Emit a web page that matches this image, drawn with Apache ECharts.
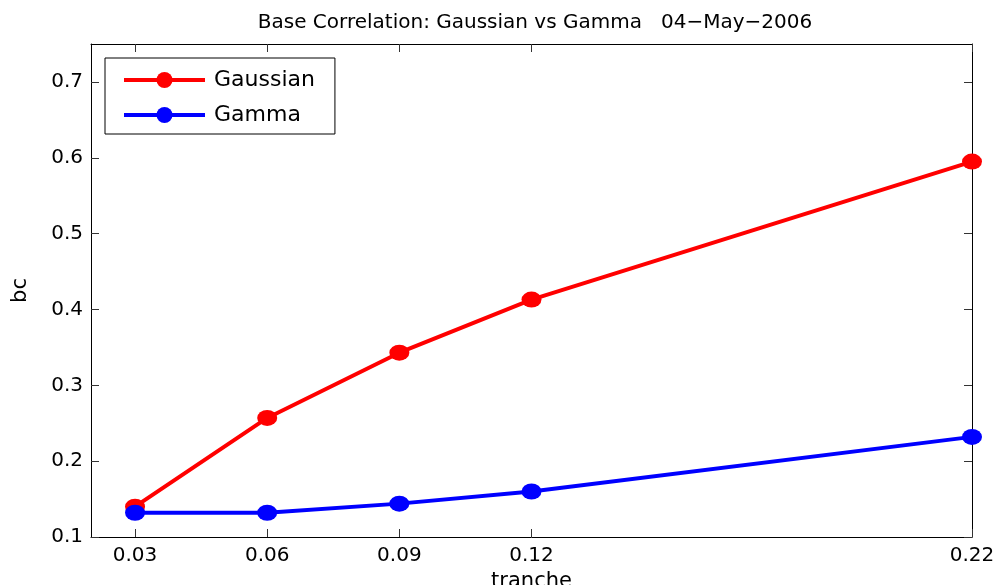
<!DOCTYPE html>
<html>
<head>
<meta charset="utf-8">
<script src="https://cdn.jsdelivr.net/npm/echarts@6/dist/echarts.min.js"></script>
<style>
html,body{margin:0;padding:0;background:#fff;overflow:hidden;}
#chart{width:999px;height:585px;}
</style>
</head>
<body>
<div id="chart"></div>
<script>
const tranche = [0.03, 0.06, 0.09, 0.12, 0.22];
const gaussian = [0.140, 0.257, 0.343, 0.413, 0.595];
const gamma = [0.132, 0.132, 0.144, 0.160, 0.232];
const xTicks = [0.03, 0.06, 0.09, 0.12, 0.22];
const yTicks = [0.1, 0.2, 0.3, 0.4, 0.5, 0.6, 0.7];
const titleText = 'Base Correlation: Gaussian vs Gamma   04\u2212May\u22122006';

const FONT = 'DejaVu Sans';
const chart = echarts.init(document.getElementById('chart'), null, {renderer: 'canvas'});

function pairs(xs, ys) { return xs.map((x, i) => [x, ys[i]]); }

const baseAxisLine = {show: true, lineStyle: {color: '#000', width: 1}};
const baseTick = {show: true, inside: true, length: 8, lineStyle: {color: '#333', width: 1}};

chart.setOption({
  backgroundColor: '#fff',
  animation: false,
  title: {
    text: titleText,
    left: 530, textAlign: 'center', top: 8,
    textStyle: {fontFamily: FONT, fontSize: 20, fontWeight: 'normal', color: '#000'}
  },
  grid: {left: 91, right: 27, top: 44, bottom: 48, containLabel: false, outerBoundsMode: 'none'},
  legend: {
    left: 105, top: 58, orient: 'vertical',
    borderColor: '#000', borderWidth: 1, backgroundColor: '#fff',
    padding: [11, 20, 8, 17],
    itemWidth: 81, itemHeight: 20, itemGap: 13,
    lineStyle: {width: 4},
    textStyle: {fontFamily: FONT, fontSize: 22, lineHeight: 22, color: '#000', padding: [0, 0, 0, 4]},
    data: ['Gaussian', 'Gamma']
  },
  xAxis: [{
    type: 'value', min: 0.02, max: 0.22, position: 'bottom',
    name: 'tranche', nameLocation: 'middle', nameGap: 33,
    nameTextStyle: {fontFamily: FONT, fontSize: 21, color: '#000'},
    axisLine: baseAxisLine,
    axisTick: Object.assign({}, baseTick, {customValues: xTicks}),
    axisLabel: {customValues: xTicks, fontFamily: FONT, fontSize: 20, color: '#000', margin: 9},
    splitLine: {show: false}
  }, {
    type: 'value', min: 0.02, max: 0.22, position: 'top',
    axisLine: baseAxisLine,
    axisTick: Object.assign({}, baseTick, {customValues: xTicks}),
    axisLabel: {show: false},
    splitLine: {show: false}
  }],
  yAxis: [{
    type: 'value', min: 0.1, max: 0.75, position: 'left',
    name: 'bc', nameLocation: 'middle', nameGap: 60, nameRotate: 90,
    nameTextStyle: {fontFamily: FONT, fontSize: 21, color: '#000'},
    axisLine: baseAxisLine,
    axisTick: Object.assign({}, baseTick, {customValues: yTicks}),
    axisLabel: {customValues: yTicks, fontFamily: FONT, fontSize: 20, color: '#000', margin: 8},
    splitLine: {show: false}
  }, {
    type: 'value', min: 0.1, max: 0.75, position: 'right',
    axisLine: baseAxisLine,
    axisTick: Object.assign({}, baseTick, {customValues: yTicks}),
    axisLabel: {show: false},
    splitLine: {show: false}
  }],
  series: [{
    name: 'Gaussian', type: 'line', xAxisIndex: 0, yAxisIndex: 0,
    data: pairs(tranche, gaussian),
    symbol: 'circle', symbolSize: [20, 16],
    lineStyle: {color: '#ff0000', width: 4},
    itemStyle: {color: '#ff0000'},
    z: 3
  }, {
    name: 'Gamma', type: 'line', xAxisIndex: 0, yAxisIndex: 0,
    data: pairs(tranche, gamma),
    symbol: 'circle', symbolSize: [20, 16],
    lineStyle: {color: '#0000ff', width: 4},
    itemStyle: {color: '#0000ff'},
    z: 4
  }]
});
</script>
</body>
</html>
